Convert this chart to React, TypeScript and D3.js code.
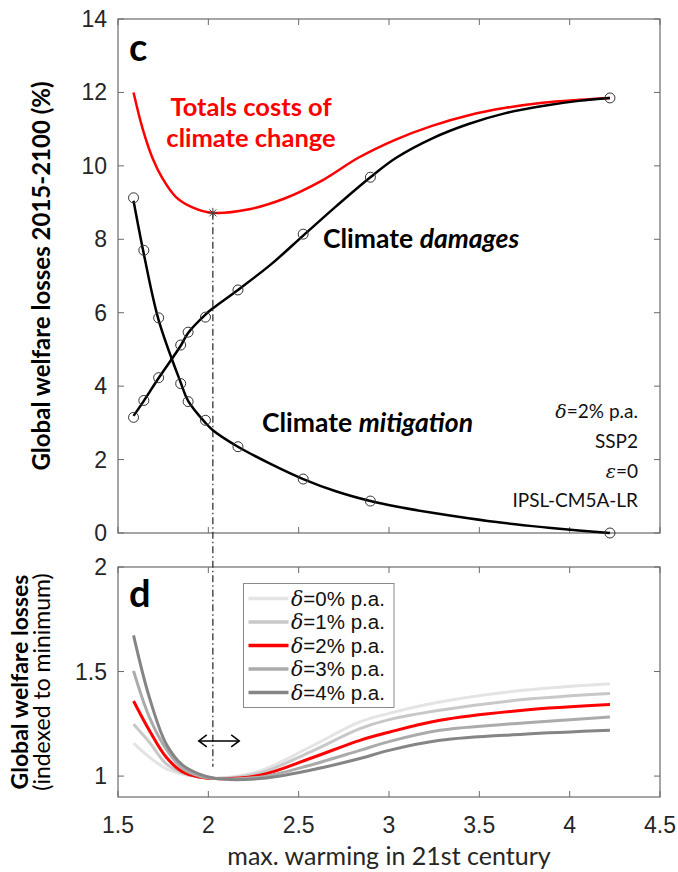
import React, { useEffect, useRef } from 'react';
import * as d3 from 'd3';

// panel c: scenarios (max warming) and welfare losses, % 2015-2100
const scenarioWarming = [1.586, 1.643, 1.725, 1.847, 1.888, 1.984, 2.164, 2.525, 2.897, 4.223];
const damages = [3.15, 3.61, 4.23, 5.12, 5.47, 5.88, 6.62, 8.14, 9.69, 11.85];
const mitigation = [9.13, 7.7, 5.86, 4.07, 3.58, 3.07, 2.35, 1.47, 0.87, 0.0];

// fitted curves through the scenario points
const fitWarming = [1.586, 1.643, 1.725, 1.847, 1.888, 1.984, 2.025, 2.164, 2.35, 2.525, 2.71, 2.897, 3.04, 3.24, 3.44, 3.64, 3.85, 4.05, 4.223];
const damagesFit = [3.19, 3.6, 4.22, 5.1, 5.45, 5.95, 6.12, 6.62, 7.33, 8.1, 8.91, 9.69, 10.22, 10.75, 11.14, 11.43, 11.63, 11.77, 11.85];
const mitigationFit = [9.05, 7.6, 5.8, 4.1, 3.6, 3.0, 2.8, 2.35, 1.87, 1.47, 1.13, 0.87, 0.72, 0.55, 0.4, 0.27, 0.16, 0.07, 0.0];

const totalWarming = [1.586, 1.637, 1.692, 1.747, 1.821, 1.912, 2.024, 2.218, 2.422, 2.626, 2.83, 3.034, 3.238, 3.442, 3.646, 3.85, 4.054, 4.223];
const totalCosts = [12.0, 11.0, 10.2, 9.65, 9.15, 8.87, 8.72, 8.81, 9.11, 9.59, 10.22, 10.71, 11.09, 11.38, 11.58, 11.72, 11.8, 11.85];

const optimumWarming = 2.025;
const optimumCost = 8.72;

// panel d: losses indexed to minimum, by discount rate
const indexWarming = [1.586, 1.673, 1.766, 1.858, 1.95, 2.042, 2.286, 2.563, 2.839, 3.0, 3.282, 3.743, 4.223];
const rateLabels = ['0', '1', '2', '3', '4'];
const rateColors = ['#e4e4e4', '#c8c8c8', '#ff0000', '#ababab', '#858585'];
const indexed0 = [1.158, 1.091, 1.036, 1.009, 0.996, 0.99, 1.025, 1.139, 1.259, 1.3, 1.354, 1.41, 1.442];
const indexed1 = [1.248, 1.163, 1.06, 1.015, 0.996, 0.989, 1.015, 1.115, 1.227, 1.27, 1.315, 1.366, 1.395];
const indexed2 = [1.359, 1.219, 1.091, 1.02, 0.996, 0.988, 1.004, 1.084, 1.171, 1.21, 1.267, 1.315, 1.342];
const indexed3 = [1.503, 1.283, 1.13, 1.036, 1.0, 0.988, 0.995, 1.052, 1.123, 1.165, 1.219, 1.254, 1.283];
const indexed4 = [1.673, 1.378, 1.155, 1.052, 1.009, 0.988, 0.988, 1.028, 1.084, 1.123, 1.171, 1.2, 1.219];
const indexedSeries = [indexed0, indexed1, indexed2, indexed3, indexed4];

const arrowRange = [1.947, 2.171];
const arrowLevel = 1.168;

const xTicks = [1.5, 2, 2.5, 3, 3.5, 4, 4.5];
const topTicks = [0, 2, 4, 6, 8, 10, 12, 14];
const bottomTicks = [1, 1.5, 2];

const annotations = ['SSP2', 'IPSL-CM5A-LR'];

const W = 678;
const H = 872;
const left = 118;
const right = 660;
const topPanel = { y0: 19, y1: 533 };
const botPanel = { y0: 567, y1: 797 };

const sans = 'Lato, "Open Sans", sans-serif';
const tickFont = '"Liberation Sans", Arial, sans-serif';
const axisColor = '#6a6a6a';

const App: React.FC = () => {
  const gRef = useRef<SVGGElement>(null);

  useEffect(() => {
    if (!gRef.current) return;
    const svg = d3.select(gRef.current);
    svg.selectAll('*').remove();

    const x = d3.scaleLinear().domain([1.5, 4.5]).range([left, right]);
    const yTop = d3.scaleLinear().domain([0, 14]).range([topPanel.y1, topPanel.y0]);
    const yBot = d3.scaleLinear().domain([0.9, 2]).range([botPanel.y1, botPanel.y0]);

    // box + inward ticks on all four sides
    const drawFrame = (y: d3.ScaleLinear<number, number>, yt: number[], xLabels: boolean) => {
      const [yb, ytp] = y.range();
      const g = svg.append('g');
      g.append('rect')
        .attr('x', left).attr('y', ytp)
        .attr('width', right - left).attr('height', yb - ytp)
        .attr('fill', 'none').attr('stroke', axisColor).attr('stroke-width', 1.2);
      xTicks.forEach(t => {
        g.append('line').attr('x1', x(t)).attr('x2', x(t)).attr('y1', yb).attr('y2', yb - 6)
          .attr('stroke', axisColor);
        g.append('line').attr('x1', x(t)).attr('x2', x(t)).attr('y1', ytp).attr('y2', ytp + 6)
          .attr('stroke', axisColor);
      });
      yt.forEach(t => {
        g.append('line').attr('x1', left).attr('x2', left + 6).attr('y1', y(t)).attr('y2', y(t))
          .attr('stroke', axisColor);
        g.append('line').attr('x1', right).attr('x2', right - 6).attr('y1', y(t)).attr('y2', y(t))
          .attr('stroke', axisColor);
        g.append('text')
          .attr('x', left - 11).attr('y', y(t) + 8)
          .attr('text-anchor', 'end')
          .attr('font-family', tickFont).attr('font-size', 23).attr('fill', '#262626')
          .text(String(t));
      });
      if (xLabels) {
        xTicks.forEach(t => {
          g.append('text')
            .attr('x', x(t)).attr('y', yb + 36)
            .attr('text-anchor', 'middle')
            .attr('font-family', tickFont).attr('font-size', 23).attr('fill', '#262626')
            .text(String(t));
        });
      }
    };
    drawFrame(yTop, topTicks, false);
    drawFrame(yBot, bottomTicks, true);

    // dash-dot optimum marker through both panels
    svg.append('line')
      .attr('x1', x(optimumWarming)).attr('x2', x(optimumWarming))
      .attr('y1', yTop(optimumCost)).attr('y2', yBot(1.045))
      .attr('stroke', '#333').attr('stroke-width', 1.3)
      .attr('stroke-dasharray', '7,3,1.5,3');

    // panel c curves
    const lineTop = d3.line<[number, number]>()
      .x(d => x(d[0])).y(d => yTop(d[1]))
      .curve(d3.curveCatmullRom.alpha(0.5));

    const tot: [number, number][] = totalWarming.map((w, i) => [w, totalCosts[i]]);
    svg.append('path').datum(tot).attr('d', lineTop)
      .attr('fill', 'none').attr('stroke', '#ff0000').attr('stroke-width', 2.5);

    [damagesFit, mitigationFit].forEach(f => {
      const pts: [number, number][] = fitWarming.map((w, i) => [w, f[i]]);
      svg.append('path').datum(pts).attr('d', lineTop)
        .attr('fill', 'none').attr('stroke', '#000').attr('stroke-width', 2.5);
    });
    [damages, mitigation].forEach(v => {
      const pts: [number, number][] = scenarioWarming.map((w, i) => [w, v[i]]);
      svg.append('g').selectAll('circle').data(pts).enter().append('circle')
        .attr('cx', d => x(d[0])).attr('cy', d => yTop(d[1])).attr('r', 5)
        .attr('fill', 'none').attr('stroke', '#333').attr('stroke-width', 1);
    });

    // asterisk at optimum
    const sx = x(optimumWarming);
    const sy = yTop(optimumCost);
    const star = svg.append('g').attr('stroke', '#444').attr('stroke-width', 1);
    [0, 45, 90, 135].forEach(a => {
      const r = (a * Math.PI) / 180;
      star.append('line')
        .attr('x1', sx - 5 * Math.cos(r)).attr('y1', sy - 5 * Math.sin(r))
        .attr('x2', sx + 5 * Math.cos(r)).attr('y2', sy + 5 * Math.sin(r));
    });

    // panel d curves
    const lineBot = d3.line<number>()
      .x((_, i) => x(indexWarming[i])).y(d => yBot(d))
      .curve(d3.curveCatmullRom.alpha(0.5));
    indexedSeries.forEach((s, i) => {
      svg.append('path').datum(s).attr('d', lineBot)
        .attr('fill', 'none').attr('stroke', rateColors[i]).attr('stroke-width', 3);
    });

    // double arrow
    const ay = yBot(arrowLevel);
    const ax0 = x(arrowRange[0]);
    const ax1 = x(arrowRange[1]);
    const arrow = svg.append('g').attr('stroke', '#000').attr('stroke-width', 1.5).attr('fill', 'none');
    arrow.append('line').attr('x1', ax0).attr('x2', ax1).attr('y1', ay).attr('y2', ay);
    arrow.append('path').attr('d', `M${ax0 + 8},${ay - 6} L${ax0},${ay} L${ax0 + 8},${ay + 6}`);
    arrow.append('path').attr('d', `M${ax1 - 8},${ay - 6} L${ax1},${ay} L${ax1 - 8},${ay + 6}`);

    // legend
    const lg = svg.append('g');
    lg.append('rect').attr('x', 243.5).attr('y', 583.5).attr('width', 150.5).attr('height', 124)
      .attr('fill', '#fff').attr('stroke', '#8a8a8a').attr('stroke-width', 1);
    rateLabels.forEach((r, i) => {
      const ly = 598.5 + i * 23.5;
      lg.append('line').attr('x1', 248.5).attr('x2', 288.5).attr('y1', ly).attr('y2', ly)
        .attr('stroke', rateColors[i]).attr('stroke-width', 3.5);
      const t = lg.append('text').attr('x', 291).attr('y', ly + 7)
        .attr('font-family', tickFont).attr('font-size', 20.5).attr('fill', '#111');
      t.append('tspan').attr('font-family', '"DejaVu Serif", serif').attr('font-style', 'italic').text('δ');
      t.append('tspan').text(`=${r}% p.a.`);
    });
  }, []);

  return (
    <svg width={W} height={H}
      style={{ position: 'absolute', left: 0, top: 0, background: '#fff' }}>
      <g ref={gRef} />
      {/* static labels */}
      <g fontFamily={sans}>
        <text x={129} y={61} fontSize={38} fontWeight={700} fill="#000">c</text>
        <text x={129} y={607} fontSize={38} fontWeight={700} fill="#000">d</text>

        <text x={251} y={116} fontSize={25.5} fontWeight={700} fill="#ff0000" textAnchor="middle">Totals costs of</text>
        <text x={251} y={147} fontSize={25.5} fontWeight={700} fill="#ff0000" textAnchor="middle">climate change</text>

        <text x={323} y={248} fontSize={26.5} fontWeight={700} fill="#000">
          Climate <tspan fontStyle="italic">damages</tspan>
        </text>
        <text x={262} y={432} fontSize={26.5} fontWeight={700} fill="#000">
          Climate <tspan fontStyle="italic">mitigation</tspan>
        </text>

        <g fontSize={19} fill="#111" textAnchor="end">
          <text x={638} y={418}>
            <tspan fontFamily='"DejaVu Serif", serif' fontStyle="italic">δ</tspan>=2% p.a.
          </text>
          <text x={638} y={448}>{annotations[0]}</text>
          <text x={638} y={477.5}>
            <tspan fontFamily='"DejaVu Serif", serif' fontStyle="italic">ε</tspan>=0
          </text>
          <text x={638} y={507}>{annotations[1]}</text>
        </g>

        <text transform="translate(50,276) rotate(-90)" fontSize={24} fontWeight={700} textAnchor="middle" fill="#000">
          Global welfare losses 2015-2100 (%)
        </text>
        <text transform="translate(28,682) rotate(-90)" fontSize={23} fontWeight={700} textAnchor="middle" fill="#000">
          Global welfare losses
        </text>
        <text transform="translate(50,682) rotate(-90)" fontSize={23} textAnchor="middle" fill="#000">
          (indexed to minimum)
        </text>

        <text x={389} y={865} fontSize={25} textAnchor="middle" fill="#262626">max. warming in 21st century</text>
      </g>
    </svg>
  );
};

export default App;
